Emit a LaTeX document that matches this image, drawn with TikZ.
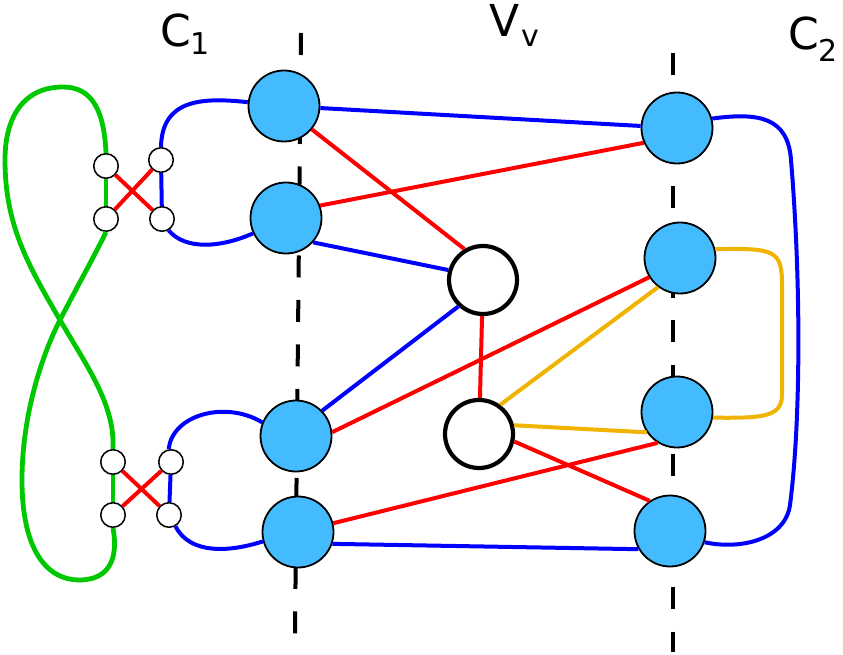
\documentclass[tikz,border=0pt]{standalone}
\usepackage{fontspec}
\setmainfont{DejaVu Sans}
\definecolor{nodeblue}{RGB}{69,187,255}
\definecolor{eblue}{RGB}{0,0,255}
\definecolor{ered}{RGB}{255,0,0}
\definecolor{egreen}{RGB}{0,200,0}
\definecolor{eorange}{RGB}{240,180,0}
\begin{document}
\begin{tikzpicture}[x=1pt,y=-1pt,
 bignode/.style={circle,draw=black,line width=1.8pt,fill=nodeblue,minimum size=71pt,inner sep=0pt},
 midnode/.style={circle,draw=black,line width=4.2pt,fill=white,minimum size=68pt,inner sep=0pt},
 smallnode/.style={circle,draw=black,line width=1.5pt,fill=white,minimum size=24.5pt,inner sep=0pt},
 bedge/.style={draw=eblue,line width=4pt},
 redge/.style={draw=ered,line width=4pt},
 gedge/.style={draw=egreen,line width=4.8pt},
 oedge/.style={draw=eorange,line width=4pt},
 axisline/.style={draw=black,line width=4pt,dash pattern=on 22pt off 22.5pt},
 lbl/.style={anchor=base west,inner sep=0pt,font=\fontsize{44}{44}\selectfont},
]
\useasboundingbox (0,0) rectangle (843,655);
\fill[white] (0,0) rectangle (843,655);

% dashed axes
\draw[axisline] (301,33) -- (295,634);
\draw[axisline] (673,53) -- (673,652);

% labels
\node[lbl] (c1) at (160,47) {C\raisebox{-8pt}{\fontsize{30}{30}\selectfont 1}};
\node[lbl] (vv) at (489,37) {V\kern2pt\raisebox{-10pt}{\fontsize{30}{30}\selectfont v}};
\node[lbl] (c2) at (788,50) {C\raisebox{-12pt}{\fontsize{30}{30}\selectfont 2}};

% big nodes
\node[bignode] (L1) at (284,106) {};
\node[bignode] (L2) at (286,218) {};
\node[bignode] (L3) at (296,436) {};
\node[bignode] (L4) at (298,532) {};
\node[bignode] (R1) at (677,128) {};
\node[bignode] (R2) at (680,258) {};
\node[bignode] (R3) at (677,412) {};
\node[bignode] (R4) at (670,531) {};
% middle nodes
\node[midnode] (M1) at (483,280) {};
\node[midnode] (M2) at (479,434) {};
% small nodes
\node[smallnode] (a) at (106,166) {};
\node[smallnode] (b) at (161,160) {};
\node[smallnode] (c) at (106,219) {};
\node[smallnode] (d) at (162,219) {};
\node[smallnode] (e) at (113,462) {};
\node[smallnode] (f) at (171,462) {};
\node[smallnode] (g) at (113,515) {};
\node[smallnode] (h) at (169,515) {};

% green figure eight
\draw[gedge] (a.north) .. controls (104,110) and (92,87) .. (63,87)
  .. controls (25,87) and (5,115) .. (5,160)
  .. controls (5,225) and (28,265) .. (60,320)
  .. controls (88,368) and (115,405) .. (e.north);
\draw[gedge] (c.south) .. controls (95,255) and (78,285) .. (60,320)
  .. controls (42,355) and (22,415) .. (22,480)
  .. controls (22,555) and (50,580) .. (79,580)
  .. controls (112,580) and (118,555) .. (g.south);
\draw[gedge] (a) -- (c);
\draw[gedge] (e) -- (g);

% small red crossings
\draw[redge] (a) -- (d);
\draw[redge] (c) -- (b);
\draw[redge] (e) -- (h);
\draw[redge] (g) -- (f);

% left blue curves
\draw[bedge] (b) -- (d);
\draw[bedge] (f) -- (h);
\draw[bedge] (b.north) .. controls (162,100) and (200,97) .. (L1.174);
\draw[bedge] (d.-60) .. controls (185,250) and (220,248) .. (L2.205);
\draw[bedge] (f.100) .. controls (172,415) and (225,400) .. (L3.158);
\draw[bedge] (h.-60) .. controls (190,555) and (230,552) .. (L4.195);

% straight edges
\draw[bedge] (L1) -- (R1);
\draw[bedge] (L2.-42) -- (M1.164);
\draw[bedge] (L3.44) -- (M1.227);
\draw[bedge] (L4.-19) -- (R4.210);
\draw[redge] (L1.-40) -- (M1.121);
\draw[redge] (L2.20) -- (R1.204);
\draw[redge] (L3.6) -- (R2.212);
\draw[redge] (L4.14) -- (R3.238);
\draw[redge] (M1) -- (M2);
\draw[redge] (M2.-12) -- (R4.124);
\draw[oedge] (M2.54) -- (R2.233);
\draw[oedge] (M2.14) -- (R3.214);

% right curves
\draw[oedge] (R2.14) .. controls (775,248) and (782,250) .. (782,285)
  -- (782,395) .. controls (782,418) and (760,418) .. (R3.-9);
\draw[bedge] (R1.15) .. controls (760,112) and (788,118) .. (791,160)
  .. controls (801,280) and (801,420) .. (790,505)
  .. controls (785,540) and (740,550) .. (R4.-18);
\end{tikzpicture}
\end{document}
